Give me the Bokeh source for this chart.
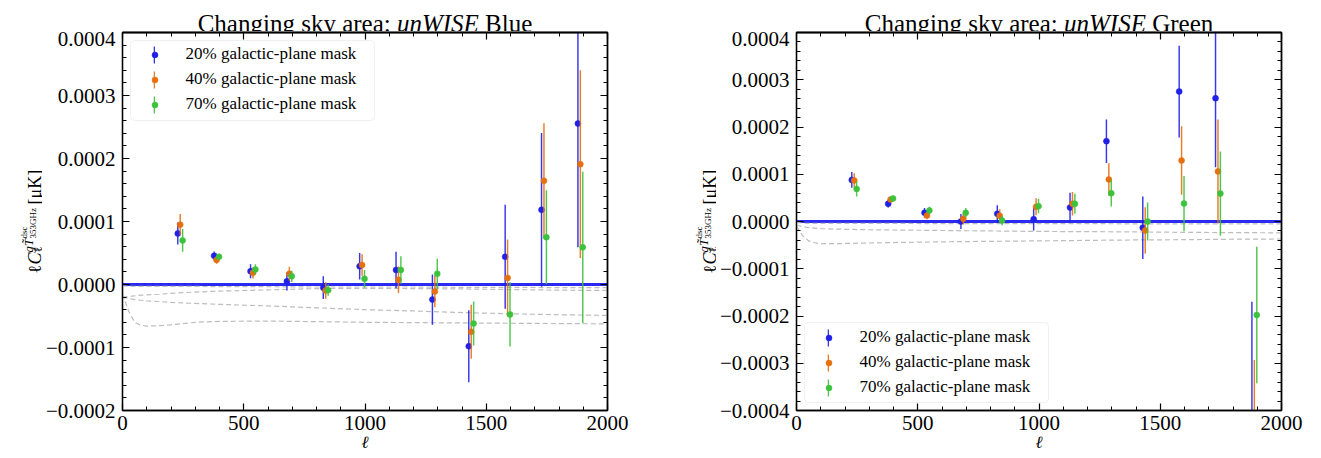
from math import pi
from bokeh.plotting import figure
from bokeh.layouts import row, column
from bokeh.models import (Label, Legend, LegendItem, LinearAxis, FixedTicker,
                          CustomJSTickFormatter, Span, Range1d, BoxAnnotation)
from bokeh.embed import file_html
from bokeh.resources import INLINE

# ---------------- data (values in units of 1e-4 muK) ----------------
SCALE = 1e-4
ell_bins = [228, 378, 528, 678, 828, 978, 1128, 1278, 1428, 1578, 1728, 1878]
mask_labels = ["20% galactic-plane mask", "40% galactic-plane mask", "70% galactic-plane mask"]

# unWISE Blue
blue_20 = [0.81, 0.455, 0.21, 0.05, -0.05, 0.29, 0.23, -0.24, -0.98, 0.44, 1.185, 2.555]
blue_20_err = [0.175, 0.07, 0.11, 0.145, 0.18, 0.21, 0.29, 0.40, 0.57, 0.825, 1.22, 1.965]
blue_40 = [0.95, 0.39, 0.185, 0.17, -0.095, 0.31, 0.075, -0.11, -0.75, 0.105, 1.645, 1.91]
blue_40_err = [0.17, 0.06, 0.09, 0.11, 0.13, 0.17, 0.21, 0.25, 0.43, 0.61, 0.915, 1.49]
blue_70 = [0.70, 0.44, 0.24, 0.13, -0.09, 0.09, 0.23, 0.17, -0.62, -0.476, 0.75, 0.59]
blue_70_err = [0.18, 0.05, 0.08, 0.09, 0.09, 0.14, 0.22, 0.24, 0.35, 0.51, 0.746, 1.2]

# unWISE Green
green_20 = [0.88, 0.375, 0.184, 0.0, 0.163, 0.05, 0.296, 1.70, -0.133, 2.75, 2.61, -4.2]
green_20_err = [0.165, 0.08, 0.10, 0.16, 0.18, 0.24, 0.31, 0.46, 0.66, 0.97, 1.46, 2.5]
green_40 = [0.87, 0.465, 0.127, 0.057, 0.12, 0.31, 0.375, 0.89, -0.19, 1.29, 1.06, -4.7]
green_40_err = [0.15, 0.05, 0.08, 0.12, 0.14, 0.18, 0.25, 0.345, 0.49, 0.725, 1.1, 1.77]
green_70 = [0.69, 0.487, 0.233, 0.184, 0.02, 0.325, 0.375, 0.60, 0.0, 0.38, 0.59, -1.98]
green_70_err = [0.16, 0.04, 0.08, 0.10, 0.10, 0.15, 0.21, 0.285, 0.40, 0.585, 0.89, 1.445]

# grey dashed reference curves
ell_curve = [0, 25, 50, 75, 100, 150, 200, 300, 400, 600, 800, 1000, 1200, 1400, 1600, 1800, 2000]
blue_curve_a = [-0.02, -0.03, -0.03, -0.03, -0.03, -0.03, -0.03, -0.03, -0.035, -0.035, -0.04, -0.04, -0.04, -0.045, -0.045, -0.05, -0.05]
blue_curve_b = [-0.20, -0.19, -0.18, -0.17, -0.165, -0.155, -0.14, -0.12, -0.105, -0.085, -0.065, -0.06, -0.065, -0.07, -0.08, -0.09, -0.095]
blue_curve_c = [-0.20, -0.22, -0.24, -0.25, -0.26, -0.27, -0.285, -0.30, -0.315, -0.34, -0.37, -0.40, -0.42, -0.445, -0.465, -0.48, -0.49]
blue_curve_d = [-0.15, -0.42, -0.60, -0.645, -0.66, -0.655, -0.64, -0.60, -0.585, -0.58, -0.59, -0.60, -0.605, -0.61, -0.615, -0.62, -0.625]
green_curve_a = [-0.02, -0.035, -0.04, -0.04, -0.04, -0.04, -0.04, -0.04, -0.04, -0.045, -0.045, -0.045, -0.045, -0.05, -0.05, -0.05, -0.05]
green_curve_b = [-0.08, -0.11, -0.13, -0.14, -0.15, -0.16, -0.165, -0.175, -0.18, -0.19, -0.20, -0.21, -0.215, -0.22, -0.23, -0.235, -0.24]
green_curve_c = [-0.10, -0.30, -0.41, -0.45, -0.47, -0.47, -0.465, -0.455, -0.445, -0.43, -0.42, -0.41, -0.40, -0.39, -0.385, -0.375, -0.37]

x_major_ticks = [0, 500, 1000, 1500, 2000]
x_minor_ticks = [100, 200, 300, 400, 600, 700, 800, 900, 1100, 1200, 1300, 1400,
                 1600, 1700, 1800, 1900]
blue_y_major = [-2, -1, 0, 1, 2, 3, 4]
green_y_major = [-4, -3, -2, -1, 0, 1, 2, 3, 4]

# ---------------- styles / layout ----------------
COLORS = ["#2020e8", "#e6700f", "#3cc23c"]
DODGE = [0, 10, 20]
SERIF = "Liberation Serif"
TICK_FS = "21px"
FRAME_W, FRAME_H = 485, 378
TITLE_H = 31          # height of the strip holding the title
YLAB_W = 42           # width of the strip holding the y label
BORDER_L = 78         # plot border left of the frame (YLAB_W + BORDER_L = 120)
BORDER_B = 46
PLOT_H = 1 + FRAME_H + BORDER_B
FULL_H = TITLE_H + PLOT_H


def text_strip(width, height):
    s = figure(width=width, height=height, x_range=Range1d(0, width), y_range=Range1d(0, height),
               min_border=0, toolbar_location=None, output_backend="svg",
               x_axis_location=None, y_axis_location=None)
    s.xgrid.visible = False
    s.ygrid.visible = False
    s.outline_line_color = None
    s.background_fill_color = None
    s.border_fill_color = None
    return s


def title_strip(width, word, word_em):
    # in a column, this strip's frame lines up with the plot frame below it,
    # so x is measured from the plot frame's left edge
    s = text_strip(width, TITLE_H)
    fs = 25
    sp = 0.25 * fs
    w1 = 7.721 * fs
    w_it = 3.277 * fs
    w3 = word_em * fs
    total = w1 + sp + w_it + sp + w3
    P = FRAME_W / 2 - total / 2 + w1 + sp
    base = dict(y=TITLE_H - 23, x_units="screen", y_units="screen", text_baseline="alphabetic",
                text_font=SERIF, text_font_size=f"{fs}px", text_color="black")
    s.add_layout(Label(x=P - sp, text="Changing sky area:", text_align="right", **base))
    s.add_layout(Label(x=P, text="unWISE", text_align="left", text_font_style="italic", **base))
    s.add_layout(Label(x=P + w_it + sp, text=word, text_align="left", **base))
    return s


def ylabel_strip(xb):
    # full-height strip; page_y is measured from the top of the page
    s = text_strip(YLAB_W, FULL_H)
    pieces = [
        ("ℓ", 0, 273, 18, "normal"),
        ("C", 0, 264, 18, "italic"),
        ("ℓ", 3.5, 252, 12.5, "normal"),
        ("g", -5.5, 252, 12.5, "italic"),
        ("T\u0303", -5.5, 245.5, 12.5, "italic"),
        ("dsc", -10.5, 238, 9, "normal"),
        ("353GHz", -1.5, 238, 9, "normal"),
        ("[μK]", 0, 204, 18, "normal"),
    ]
    for text, dx, page_y, fs, style in pieces:
        s.add_layout(Label(x=xb + dx, y=FULL_H - page_y, x_units="screen", y_units="screen",
                           text=text, angle=pi / 2, text_align="left",
                           text_baseline="alphabetic", text_font=SERIF,
                           text_font_size=f"{fs}px", text_font_style=style,
                           text_color="black"))
    return s


def style_axis(ax):
    ax.axis_line_width = 1.3
    ax.axis_line_color = "black"
    ax.major_tick_in = 7
    ax.major_tick_out = 0
    ax.minor_tick_in = 4
    ax.minor_tick_out = 0
    ax.major_tick_line_width = 1.2
    ax.minor_tick_line_width = 1.0
    ax.major_tick_line_color = "black"
    ax.minor_tick_line_color = "black"
    ax.major_label_text_font = SERIF
    ax.major_label_text_color = "black"
    ax.major_label_text_font_size = TICK_FS


def mirror_axes(p, side, major, minor):
    # label-free axes on the top / right: ticks only (given as "minor" ticks, which carry no labels)
    for ticks, length, width in ((minor, 4, 1.0), (major, 7, 1.2)):
        ax = LinearAxis(ticker=FixedTicker(ticks=[], minor_ticks=ticks))
        ax.axis_line_width = 1.3
        ax.axis_line_color = "black"
        ax.major_tick_in = 0
        ax.major_tick_out = 0
        ax.minor_tick_in = length
        ax.minor_tick_out = 0
        ax.minor_tick_line_width = width
        ax.minor_tick_line_color = "black"
        ax.major_label_standoff = 0
        p.add_layout(ax, side)


def y_minor(major):
    out = []
    for i in range(len(major) - 1):
        for k in range(1, 5):
            out.append((major[i] + 0.2 * k) * SCALE)
    return out


def make_panel(series, errs, curves, y_major, right_border):
    ymin, ymax = y_major[0] * SCALE, y_major[-1] * SCALE
    p = figure(frame_width=FRAME_W, frame_height=FRAME_H,
               x_range=Range1d(0, 2000), y_range=Range1d(ymin, ymax),
               output_backend="svg", toolbar_location=None,
               min_border_left=BORDER_L, min_border_right=right_border,
               min_border_top=1, min_border_bottom=BORDER_B,
               x_axis_label="ℓ")
    p.xgrid.visible = False
    p.ygrid.visible = False
    p.outline_line_color = "black"
    p.outline_line_width = 1.3
    p.background_fill_color = "white"

    y_major_v = [v * SCALE for v in y_major]
    y_minor_v = y_minor(y_major)
    xt = FixedTicker(ticks=x_major_ticks, minor_ticks=x_minor_ticks)
    yt = FixedTicker(ticks=y_major_v, minor_ticks=y_minor_v)
    yfmt = CustomJSTickFormatter(code="""
        const v = Math.abs(tick) < 1e-12 ? 0 : tick;
        const s = Math.abs(v).toFixed(4);
        return v < 0 ? '\u2212' + s : s;
    """)
    p.xaxis.ticker = xt
    p.yaxis.ticker = yt
    p.yaxis.formatter = yfmt
    style_axis(p.xaxis[0])
    style_axis(p.yaxis[0])
    p.xaxis.major_label_standoff = 5
    p.yaxis.major_label_standoff = 7
    p.xaxis.axis_label_standoff = 0
    p.xaxis.axis_label_text_font = SERIF
    p.xaxis.axis_label_text_font_size = "17px"
    p.xaxis.axis_label_text_color = "black"

    mirror_axes(p, "above", x_major_ticks, x_minor_ticks)
    mirror_axes(p, "right", y_major_v, y_minor_v)

    # zero line
    p.add_layout(Span(location=0, dimension="width", line_color="#2a2af0",
                      line_width=3, level="underlay"))
    # grey dashed curves
    for c in curves:
        p.line(ell_curve, [v * SCALE for v in c], line_color="#bdbdbd",
               line_dash="5 3", line_width=1.2)

    dot_rs, bar_rs = [], []
    for vals, err, col, dx in zip(series, errs, COLORS, DODGE):
        x = [e + dx for e in ell_bins]
        y = [v * SCALE for v in vals]
        lo = [(v - e) * SCALE for v, e in zip(vals, err)]
        hi = [(v + e) * SCALE for v, e in zip(vals, err)]
        br = p.vbar(x=x, width=6, bottom=lo, top=hi, fill_color=col,
                    fill_alpha=0.9, line_color=None)
        dr = p.scatter(x=x, y=y, size=6, marker="circle", fill_color=col,
                       line_color=col, line_width=0.5)
        bar_rs.append(br)
        dot_rs.append(dr)

    return p, dot_rs, bar_rs


def add_legend(p, dot_rs, bar_rs, box_bottom, rows_bottom):
    p.add_layout(BoxAnnotation(left=8, right=252, bottom=box_bottom, top=box_bottom + 80,
                               left_units="screen", right_units="screen",
                               bottom_units="screen", top_units="screen",
                               fill_color="white", fill_alpha=0.85,
                               line_color="#cccccc", line_width=1, border_radius=4))
    common = dict(orientation="vertical", padding=0, spacing=4, glyph_height=21,
                  label_height=21, background_fill_alpha=0, border_line_color=None,
                  margin=0)
    dots = Legend(items=[LegendItem(label=l, renderers=[r]) for l, r in zip(mask_labels, dot_rs)],
                  location=(8 + 24 - 7.5, rows_bottom), glyph_width=15, label_standoff=24,
                  label_text_font=SERIF, label_text_font_size="17px",
                  label_text_color="black", **common)
    bars = Legend(items=[LegendItem(label="", renderers=[r]) for r in bar_rs],
                  location=(8 + 24 - 1, rows_bottom), glyph_width=2, label_standoff=0,
                  label_width=0, label_text_font_size="10px", **common)
    p.add_layout(dots)
    p.add_layout(bars)


# left panel: unWISE Blue
p1, d1, b1 = make_panel([blue_20, blue_40, blue_70], [blue_20_err, blue_40_err, blue_70_err],
                        [blue_curve_a, blue_curve_b, blue_curve_c, blue_curve_d],
                        blue_y_major, 67)
add_legend(p1, d1, b1, box_bottom=290, rows_bottom=295.5)
W1 = BORDER_L + FRAME_W + 67
block1 = row(ylabel_strip(34),
             column(title_strip(W1, "Blue", 1.889), p1))

# right panel: unWISE Green
p2, d2, b2 = make_panel([green_20, green_40, green_70], [green_20_err, green_40_err, green_70_err],
                        [green_curve_a, green_curve_b, green_curve_c],
                        green_y_major, 40)
add_legend(p2, d2, b2, box_bottom=8, rows_bottom=12.5)
W2 = BORDER_L + FRAME_W + 40
block2 = row(ylabel_strip(35),
             column(title_strip(W2, "Green", 2.443), p2))

layout = row(block1, block2)
with open("out.html", "w", encoding="utf-8") as f:
    f.write(file_html(layout, INLINE))
